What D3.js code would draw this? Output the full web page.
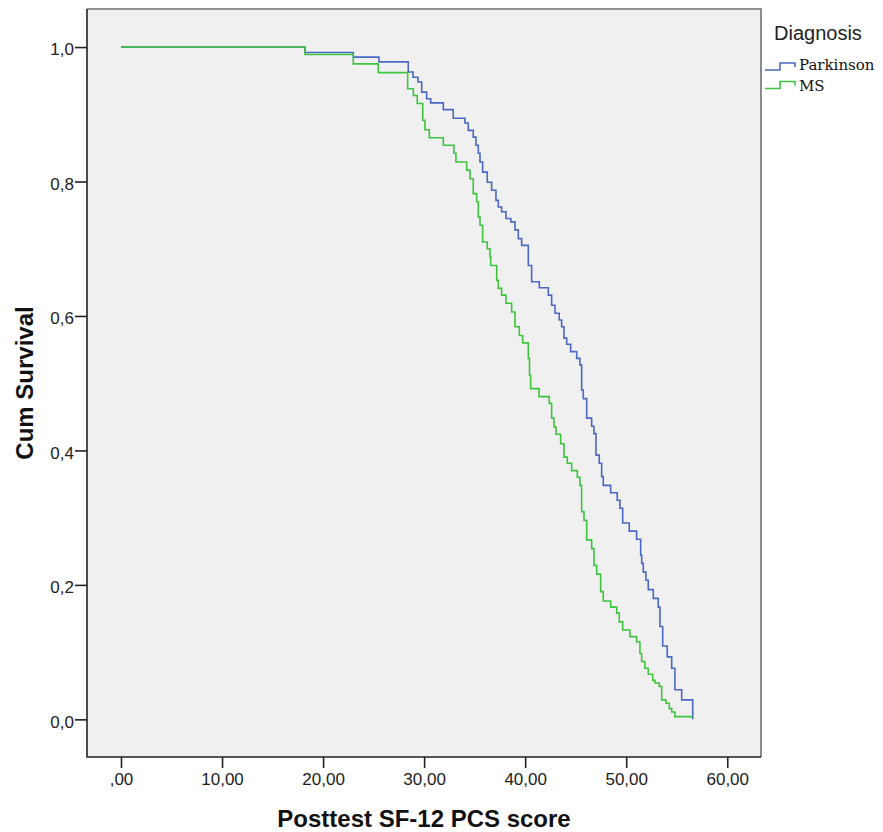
<!DOCTYPE html>
<html>
<head>
<meta charset="utf-8">
<script src="https://cdn.jsdelivr.net/npm/d3@7"></script>
<style>
  html, body { margin: 0; padding: 0; background: #ffffff; }
  svg { display: block; }
</style>
</head>
<body>
<svg id="chart" width="883" height="832"></svg>
<script>
// ---- Data ----
const seriesNames = ["Parkinson", "MS"];

const parkinsonScore = [0, 18.21, 22.99, 25.53, 28.43, 28.90, 29.39, 29.76, 30.25, 30.65, 31.90, 32.88, 34.04, 34.37, 34.86, 35.13, 35.36, 35.53, 35.79, 36.25, 36.68, 37.11, 37.34, 37.67, 38.10, 38.59, 38.99, 39.32, 39.65, 40.31, 40.64, 41.40, 42.29, 42.62, 42.95, 43.37, 43.61, 43.84, 44.11, 44.50, 45.10, 45.42, 45.59, 45.75, 46.09, 46.58, 46.81, 47.01, 47.33, 47.57, 47.73, 48.46, 49.11, 49.38, 49.65, 50.30, 51.03, 51.43, 51.53, 51.69, 51.95, 52.18, 52.68, 53.17, 53.34, 53.61, 54.06, 54.50, 54.82, 55.49, 56.58];
const parkinsonSurv = [1.000, 0.992, 0.985, 0.978, 0.963, 0.955, 0.948, 0.933, 0.923, 0.917, 0.907, 0.894, 0.887, 0.876, 0.866, 0.854, 0.842, 0.829, 0.814, 0.799, 0.787, 0.772, 0.762, 0.755, 0.745, 0.740, 0.728, 0.715, 0.705, 0.675, 0.651, 0.642, 0.631, 0.616, 0.604, 0.594, 0.584, 0.567, 0.558, 0.547, 0.537, 0.527, 0.490, 0.477, 0.448, 0.436, 0.425, 0.393, 0.381, 0.361, 0.348, 0.337, 0.326, 0.314, 0.292, 0.280, 0.268, 0.244, 0.232, 0.219, 0.207, 0.193, 0.180, 0.167, 0.138, 0.109, 0.093, 0.076, 0.044, 0.029, 0.000];

const msScore = [0, 18.21, 22.99, 25.46, 28.37, 28.93, 29.32, 29.86, 30.08, 30.51, 31.90, 32.95, 33.15, 34.21, 34.54, 34.86, 35.20, 35.36, 35.53, 35.79, 36.25, 36.52, 36.59, 37.18, 37.34, 37.67, 38.10, 38.66, 38.99, 39.42, 39.75, 40.31, 40.43, 40.54, 41.37, 42.38, 42.62, 42.85, 43.05, 43.51, 43.84, 44.17, 44.60, 45.16, 45.42, 45.59, 45.82, 46.09, 46.58, 46.81, 47.08, 47.47, 47.73, 48.46, 49.06, 49.31, 49.65, 50.37, 51.03, 51.36, 51.53, 51.85, 52.18, 52.62, 52.85, 53.27, 53.51, 53.94, 54.26, 54.50, 54.82, 56.58];
const msSurv = [1.000, 0.989, 0.975, 0.962, 0.938, 0.928, 0.916, 0.891, 0.877, 0.865, 0.854, 0.842, 0.829, 0.817, 0.804, 0.782, 0.770, 0.747, 0.735, 0.710, 0.700, 0.688, 0.675, 0.653, 0.641, 0.631, 0.619, 0.606, 0.584, 0.571, 0.560, 0.537, 0.512, 0.492, 0.480, 0.470, 0.448, 0.435, 0.424, 0.410, 0.390, 0.381, 0.370, 0.360, 0.348, 0.309, 0.296, 0.267, 0.254, 0.229, 0.216, 0.190, 0.176, 0.167, 0.158, 0.145, 0.133, 0.123, 0.115, 0.098, 0.086, 0.076, 0.067, 0.058, 0.054, 0.049, 0.029, 0.024, 0.016, 0.011, 0.004, 0.004];

const xTickValues = [0, 10, 20, 30, 40, 50, 60];
const xTickLabels = [",00", "10,00", "20,00", "30,00", "40,00", "50,00", "60,00"];
const yTickValues = [0, 0.2, 0.4, 0.6, 0.8, 1.0];
const yTickLabels = ["0,0", "0,2", "0,4", "0,6", "0,8", "1,0"];

// ---- Layout ----
const plot = { left: 87, right: 761, top: 9, bottom: 757 };
const svg = d3.select("#chart");
const fontSans = "'Liberation Sans', Arial, sans-serif";

const x = d3.scaleLinear().domain([-3.365, 63.34]).range([plot.left, plot.right]);
const y = d3.scaleLinear().domain([-0.056, 1.0566]).range([plot.bottom, plot.top]);

// plot background
svg.append("rect")
  .attr("x", plot.left).attr("y", plot.top)
  .attr("width", plot.right - plot.left).attr("height", plot.bottom - plot.top)
  .attr("fill", "#f0f0f0");

// top & right frame (grey)
svg.append("path")
  .attr("d", `M${plot.left},${plot.top}H${plot.right}V${plot.bottom}`)
  .attr("fill", "none").attr("stroke", "#707070").attr("stroke-width", 1.6);

// series
const colors = { Parkinson: "#4a68c4", MS: "#3ec43e" };
const line = d3.line().x(d => x(d[0])).y(d => y(d[1])).curve(d3.curveStepAfter);
const pData = parkinsonScore.map((s, i) => [s, parkinsonSurv[i]]);
const mData = msScore.map((s, i) => [s, msSurv[i]]);

svg.append("path").datum(pData)
  .attr("d", line).attr("fill", "none")
  .attr("stroke", colors.Parkinson).attr("stroke-width", 1.6);
svg.append("path").datum(mData)
  .attr("d", line).attr("fill", "none")
  .attr("stroke", colors.MS).attr("stroke-width", 1.6);

// axes
const yAxis = d3.axisLeft(y)
  .tickValues(yTickValues)
  .tickFormat((d, i) => yTickLabels[i])
  .tickSize(12).tickPadding(1).tickSizeOuter(0);
const gy = svg.append("g").attr("transform", `translate(${plot.left},0)`).call(yAxis);
gy.select(".domain").remove();
gy.selectAll(".tick line").attr("stroke", "#222").attr("stroke-width", 1.6);
gy.selectAll(".tick text")
  .attr("font-family", fontSans).attr("font-size", 17)
  .attr("fill", "#222").attr("dy", "0.45em");

const xAxis = d3.axisBottom(x)
  .tickValues(xTickValues)
  .tickFormat((d, i) => xTickLabels[i])
  .tickSize(11).tickPadding(5).tickSizeOuter(0);
const gx = svg.append("g").attr("transform", `translate(0,${plot.bottom})`).call(xAxis);
gx.select(".domain").remove();
gx.selectAll(".tick line").attr("stroke", "#222").attr("stroke-width", 1.6);
gx.selectAll(".tick text")
  .attr("font-family", fontSans).attr("font-size", 17).attr("fill", "#222");

// left & bottom frame (dark)
svg.append("path")
  .attr("d", `M${plot.left},${plot.top}V${plot.bottom}H${plot.right}`)
  .attr("fill", "none").attr("stroke", "#222").attr("stroke-width", 1.6);

// axis titles
svg.append("text")
  .attr("x", (plot.left + plot.right) / 2).attr("y", 827)
  .attr("text-anchor", "middle")
  .attr("font-family", fontSans).attr("font-size", 24).attr("font-weight", "bold")
  .attr("fill", "#111")
  .text("Posttest SF-12 PCS score");

svg.append("text")
  .attr("transform", `translate(33,383) rotate(-90)`)
  .attr("text-anchor", "middle")
  .attr("font-family", fontSans).attr("font-size", 24).attr("font-weight", "bold")
  .attr("fill", "#111")
  .text("Cum Survival");

// legend
svg.append("text")
  .attr("x", 774).attr("y", 40)
  .attr("font-family", fontSans).attr("font-size", 20)
  .attr("fill", "#222")
  .text("Diagnosis");

const legendRows = [
  { name: seriesNames[0], low: 70, high: 63, end: 67, text: 70 },
  { name: seriesNames[1], low: 88.5, high: 81.5, end: 85.5, text: 90.5 }
];
legendRows.forEach(r => {
  svg.append("path")
    .attr("d", `M765,${r.low}H780V${r.high}H795V${r.end}`)
    .attr("fill", "none").attr("stroke", colors[r.name]).attr("stroke-width", 1.6);
  svg.append("text")
    .attr("x", 799).attr("y", r.text)
    .attr("font-family", "'DejaVu Serif', 'Liberation Serif', serif").attr("font-size", 15)
    .attr("fill", "#111")
    .text(r.name);
});
</script>
</body>
</html>
